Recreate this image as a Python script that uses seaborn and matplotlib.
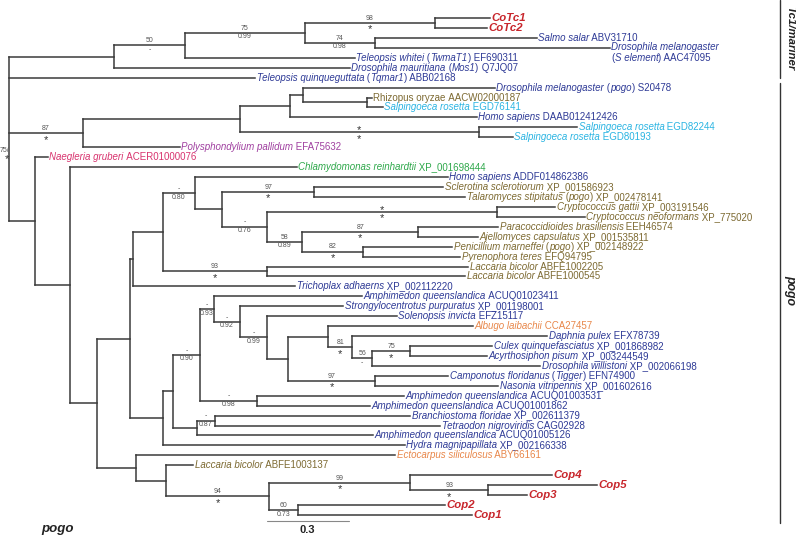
import numpy as np
import pandas as pd
import seaborn as sns
import matplotlib
matplotlib.use("Agg")
import matplotlib.pyplot as plt

# internal nodes (parents listed before children), branch lengths in subst./site
node_names = ["R", "N2", "N3", "N4", "N5", "N6",
              "Npg", "N8", "N9", "N10", "N11", "N12",
              "Nbig", "N14", "N15", "N16", "N17", "N18", "N19", "N20", "N21", "N22",
              "N23", "N24", "N24a", "N24b", "Nlac",
              "N25", "N26", "N27", "N28", "N29", "N30", "N31", "N32", "N33", "N33a",
              "Ncul", "N33b", "N34", "N35", "N36",
              "N40", "N41", "N42", "N43", "N45", "N44"]
node_parent = [None, "R", "N2", "N3", "N4", "N4",
               "R", "Npg", "N8", "N9", "N10", "N8",
               "R", "Nbig", "N14", "N15", "N16", "N17", "N18", "N19", "N20", "N20",
               "N22", "N22", "N24", "N24", "N18",
               "N16", "N25", "N26", "N27", "N28", "N29", "N30", "N31", "N32", "N33",
               "N33a", "N31", "N27", "N26", "N35",
               "N15", "N40", "N41", "N42", "N43", "N42"]
node_len = [0.0, 0.383, 0.259, 0.438, 0.474, 0.255,
            0.270, 0.573, 0.182, 0.047, 0.234, 0.872,
            0.095, 0.128, 0.099, 0.120, 0.011, 0.109, 0.117, 0.099, 0.336, 0.164,
            0.839, 0.128, 0.423, 0.223, 0.380,
            0.120, 0.036, 0.099, 0.051, 0.095, 0.099, 0.077, 0.146, 0.088, 0.073,
            0.139, 0.318, 0.208, 0.088, 0.066,
            0.142, 0.109, 0.376, 0.515, 0.285, 0.106]

# leaves, top to bottom
leaf_species = ["CoTc1", "CoTc2", "Salmo salar", "Drosophila melanogaster",
                "Teleopsis whitei", "Drosophila mauritiana", "Teleopsis quinqueguttata",
                "Drosophila melanogaster", "Rhizopus oryzae", "Salpingoeca rosetta",
                "Homo sapiens", "Salpingoeca rosetta", "Salpingoeca rosetta",
                "Polysphondylium pallidum", "Naegleria gruberi", "Chlamydomonas reinhardtii",
                "Homo sapiens", "Sclerotina sclerotiorum", "Talaromyces stipitatus",
                "Cryptococcus gattii", "Cryptococcus neoformans", "Paracoccidioides brasiliensis",
                "Ajellomyces capsulatus", "Penicillium marneffei", "Pyrenophora teres",
                "Laccaria bicolor", "Laccaria bicolor", "Trichoplax adhaerns",
                "Amphimedon queenslandica", "Strongylocentrotus purpuratus", "Solenopsis invicta",
                "Albugo laibachii", "Daphnia pulex", "Culex quinquefasciatus",
                "Acyrthosiphon pisum", "Drosophila willistoni", "Camponotus floridanus",
                "Nasonia vitripennis", "Amphimedon queenslandica", "Amphimedon queenslandica",
                "Branchiostoma floridae", "Tetraodon nigroviridis", "Amphimedon queenslandica",
                "Hydra magnipapillata", "Ectocarpus siliculosus", "Laccaria bicolor",
                "Cop4", "Cop5", "Cop3", "Cop2", "Cop1"]
leaf_tag = ["", "", "", "S element", "TwmaT1", "Mos1", "Tqmar1", "pogo", "", "",
            "", "", "", "", "", "", "", "", "pogo", "", "", "", "", "pogo", "",
            "", "", "", "", "", "", "", "", "", "", "", "Tigger", "", "", "",
            "", "", "", "", "", "", "", "", "", "", ""]
leaf_acc = ["", "", "ABV31710", "AAC47095", "EF690311", "Q7JQ07", "ABB02168",
            "S20478", "AACW02000187", "EGD76141", "DAAB012412426", "EGD82244", "EGD80193",
            "EFA75632", "ACER01000076", "XP_001698444", "ADDF014862386", "XP_001586923",
            "XP_002478141", "XP_003191546", "XP_775020", "EEH46574", "XP_001535811",
            "XP_002148922", "EFQ94795", "ABFE1002205", "ABFE1000545", "XP_002112220",
            "ACUQ01023411", "XP_001198001", "EFZ15117", "CCA27457", "EFX78739",
            "XP_001868982", "XP_003244549", "XP_002066198", "EFN74900", "XP_001602616",
            "ACUQ01003531", "ACUQ01001862", "XP_002611379", "CAG02928", "ACUQ01005126",
            "XP_002166338", "ABY66161", "ABFE1003137", "", "", "", "", ""]
leaf_group = ["new", "new", "animal", "animal", "animal", "animal", "animal",
              "animal", "fungi", "choano", "animal", "choano", "choano",
              "amoeba", "excavate", "alga", "animal", "fungi", "fungi",
              "fungi", "fungi", "fungi", "fungi", "fungi", "fungi",
              "fungi", "fungi", "animal", "animal", "animal", "animal",
              "stramen", "animal", "animal", "animal", "animal", "animal",
              "animal", "animal", "animal", "animal", "animal", "animal",
              "animal", "stramen", "fungi", "new", "new", "new", "new", "new"]
leaf_parent = ["N5", "N5", "N6", "N6", "N3", "N2", "R", "N10", "N11", "N11",
               "N9", "N12", "N12", "Npg", "Nbig", "N14", "N19", "N21", "N21",
               "N23", "N23", "N24a", "N24a", "N24b", "N24b", "Nlac", "Nlac",
               "N17", "N28", "N29", "N30", "N32", "N33", "Ncul", "Ncul", "N33a",
               "N33b", "N33b", "N34", "N34", "N36", "N36", "N35", "N25", "N40",
               "N41", "N43", "N45", "N45", "N44", "N44"]
leaf_len = [0.201, 0.190, 0.591, 0.858, 0.620, 0.861, 0.898, 0.701, 0.018, 0.058,
            0.682, 0.358, 0.124, 0.354, 0.047, 0.828, 0.923, 0.471, 0.551,
            0.212, 0.321, 0.292, 0.219, 0.325, 0.354, 0.734, 0.723,
            0.591, 0.540, 0.376, 0.474, 0.529, 0.712, 0.299, 0.281, 0.613,
            0.266, 0.449, 0.536, 0.412, 0.712, 0.821, 0.642, 0.883, 0.945,
            0.099, 0.518, 0.398, 0.142, 0.536, 0.635]
upright_species = ["Rhizopus oryzae"]

# bootstrap / posterior support
support_node = ["N3", "N4", "N5", "N6", "Npg", "N12", "N19", "N21", "N22", "N23",
                "N24", "N24a", "N24b", "Nlac", "N27", "N28", "N29", "N30", "N33",
                "N33a", "Ncul", "N33b", "N34", "N36", "N42", "N43", "N45", "N44"]
support_boot = ["50", "75", "98", "74", "87", "*", "-", "97", "-", "*",
                "58", "87", "82", "93", "-", "-", "-", "-", "81",
                "56", "75", "97", "-", "-", "94", "99", "93", "60"]
support_post = ["-", "0.99", "*", "0.98", "*", "*", "0.80", "*", "0.76", "*",
                "0.89", "*", "*", "*", "0.90", "0.93", "0.92", "0.99", "*",
                "-", "*", "*", "0.98", "0.87", "*", "*", "*", "0.73"]

group_colors = {"new": "#c8262c", "animal": "#2e3a96", "fungi": "#7d6a32",
                "choano": "#2ab4e2", "amoeba": "#a040a0", "excavate": "#d8336e",
                "alga": "#2fa84b", "stramen": "#e8874a"}

PX = 274.0      # pixels per substitution unit
ROW = 9.94      # pixels per leaf row

# --- tree layout ---
depth = {"R": 0.0}
for n, p, l in zip(node_names[1:], node_parent[1:], node_len[1:]):
    depth[n] = depth[p] + l
children = {n: [] for n in node_names}
for n, p in zip(node_names[1:], node_parent[1:]):
    children[p].append(n)
ypos = {}
leaf_x = []
for i, (p, l) in enumerate(zip(leaf_parent, leaf_len)):
    key = "leaf%d" % i
    ypos[key] = float(i)
    depth[key] = depth[p] + l
    children[p].append(key)
    leaf_x.append(depth[key])


def node_y(n):
    if n in ypos:
        return ypos[n]
    ys = [node_y(c) for c in children[n]]
    ypos[n] = (min(ys) + max(ys)) / 2
    return ypos[n]


node_y("R")

rows = []
seg = 0
for n in node_names:
    ys = [ypos[c] for c in children[n]]
    rows += [(seg, depth[n], min(ys)), (seg, depth[n], max(ys))]
    seg += 1
    for c in children[n]:
        rows += [(seg, depth[n], ypos[c]), (seg, depth[c], ypos[c])]
        seg += 1
seg_df = pd.DataFrame(rows, columns=["seg", "x", "y"])

sns.set_style("white")
plt.rcParams["font.family"] = ["Liberation Sans", "DejaVu Sans"]

fig = plt.figure(figsize=(7.96, 5.37), dpi=100)
ax = fig.add_axes([0, 0, 1, 1])
ax.set_xlim(-9 / PX, (796 - 9) / PX)
ax.set_ylim((537 - 18) / ROW, -18 / ROW)
ax.axis("off")

sns.lineplot(data=seg_df, x="x", y="y", units="seg", estimator=None, sort=False,
             color="#3a3a3a", lw=1.1, solid_capstyle="projecting", ax=ax, legend=False)

renderer = fig.canvas.get_renderer()
_bar_w = {}


def text_w(s, **kw):
    key = tuple(sorted(kw.items()))
    if key not in _bar_w:
        t = ax.text(0, 0, "||", **kw)
        _bar_w[key] = t.get_window_extent(renderer).width
        t.remove()
    t = ax.text(0, 0, "|" + s + "|", **kw)
    w = t.get_window_extent(renderer).width - _bar_w[key]
    t.remove()
    return w / PX


def put(x, y, pieces, color, size=7, weight="normal"):
    for s, ital in pieces:
        kw = dict(fontsize=size, fontweight=weight, fontstyle="italic" if ital else "normal")
        ax.text(x, y, s, color=color, va="center", ha="left", **kw)
        x += text_w(s, **kw)


gap = 1.5 / PX
for i in range(len(leaf_species)):
    sp, tag, acc = leaf_species[i], leaf_tag[i], leaf_acc[i]
    col = group_colors[leaf_group[i]]
    x0 = leaf_x[i] + gap
    if leaf_group[i] == "new":
        put(x0, i, [(sp, True)], col, size=8.2, weight="bold")
        continue
    ital = sp not in upright_species
    if tag == "S element":
        put(x0, i - 0.05, [(sp, ital)], col)
        put(x0, i + 1.0, [("(", False), (tag, True), (") " + acc, False)], col)
        continue
    pieces = [(sp, ital)]
    if tag:
        pieces += [(" (", False), (tag, True), (")", False)]
    pieces += [(" " + acc, False)]
    put(x0, i, pieces, col)

# support values on the branch leading to each node
parent_of = dict(zip(node_names[1:], node_parent[1:]))
for n, b, p in zip(support_node, support_boot, support_post):
    xm = (depth[n] + depth[parent_of[n]]) / 2
    y = ypos[n]
    for s, dy in ((b, -4.6), (p, 4.0)):
        if s == "*":
            ax.text(xm, y + (dy + 2.6) / ROW, "*", fontsize=8, color="#333333",
                    ha="center", va="center")
        else:
            ax.text(xm, y + dy / ROW, s, fontsize=5, color="#555555",
                    ha="center", va="center")

# root support
ax.text(0.5 / PX, 13.3, "75/", fontsize=5, color="#555555", ha="right", va="center")
ax.text(-2 / PX, 14.2, "*", fontsize=8, color="#333333", ha="center", va="center")

# scale bar
sb_x = 0.94
ax.plot([sb_x, sb_x + 0.3], [50.6, 50.6], color="#888888", lw=0.8)
ax.text(sb_x + 0.15, 51.5, "0.3", fontsize=8, fontweight="bold", ha="center",
        va="center", color="#222222")

# clade brackets
bx = (780 - 9) / PX
ax.plot([bx, bx], [-1.8, 6.05], color="#333333", lw=1.0)
ax.plot([bx, bx], [6.55, 50.8], color="#333333", lw=1.0)
ax.text(bx + 10 / PX, 2.05, "Tc1/mariner", rotation=-90, fontsize=8.2, fontweight="bold",
        fontstyle="italic", ha="center", va="center", color="#222222")
ax.text(bx + 10 / PX, 27.4, "pogo", rotation=-90, fontsize=8.8, fontweight="bold",
        fontstyle="italic", ha="center", va="center", color="#222222")
ax.text(49 / PX, 51.4, "pogo", fontsize=9.5, fontweight="bold", fontstyle="italic",
        ha="center", va="center", color="#222222")

fig.savefig("out.png", dpi=100)
